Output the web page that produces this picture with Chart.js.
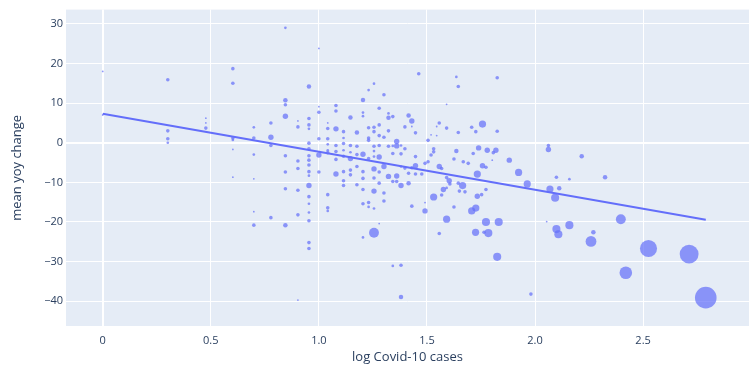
<!DOCTYPE html>
<html>
<head>
<meta charset="utf-8">
<script src="https://cdn.jsdelivr.net/npm/chart.js@4"></script>
<style>
  html, body { margin:0; padding:0; background:#fff; }
  #wrap { width:749px; height:371px; }
</style>
</head>
<body>
<div id="wrap"><canvas id="covidChart" width="749" height="371"></canvas></div>
<script>
// DATA
const logCases = [
  0,0,0.301,0.301,0.301,0.301,0.477,0.477,0.477,0.602,
  0.602,0.602,0.602,0.602,0.602,0.699,0.699,0.699,0.699,0.699,
  0.699,0.778,0.778,0.778,0.778,0.845,0.845,0.845,0.845,0.845,
  0.845,0.845,0.845,0.903,0.903,0.903,0.903,0.903,0.903,0.903,
  0.954,0.954,0.954,0.954,0.954,0.954,0.954,0.954,0.954,0.954,
  0.954,0.954,0.954,0.954,0.954,0.954,0.954,0.954,1,1,
  1,1,1,1,1.041,1.041,1.041,1.041,1.041,1.041,
  1.041,1.041,1.041,1.079,1.079,1.079,1.079,1.079,1.079,1.079,
  1.114,1.114,1.114,1.114,1.114,1.114,1.114,1.114,1.146,1.146,
  1.146,1.146,1.146,1.146,1.176,1.176,1.176,1.176,1.176,1.204,
  1.204,1.204,1.204,1.204,1.204,1.204,1.204,1.204,1.23,1.23,
  1.23,1.23,1.23,1.23,1.23,1.255,1.255,1.255,1.255,1.255,
  1.255,1.255,1.255,1.255,1.255,1.255,1.279,1.279,1.279,1.279,
  1.279,1.279,1.279,1.279,1.301,1.301,1.301,1.301,1.301,1.322,
  1.322,1.322,1.322,1.322,1.342,1.342,1.342,1.342,1.342,1.36,
  1.36,1.36,1.36,1.38,1.38,1.38,1.38,1.38,1.38,1.398,
  1.398,1.398,1.415,1.415,1.415,1.43,1.43,1.43,1.43,1.447,
  1.447,1.447,1.447,1.462,1.476,1.491,1.491,1.491,1.505,1.505,
  1.519,1.519,1.531,1.531,1.531,1.545,1.545,1.557,1.557,1.557,
  1.568,1.568,1.576,1.591,1.591,1.591,1.591,1.591,1.603,1.606,
  1.625,1.625,1.636,1.636,1.645,1.645,1.645,1.65,1.665,1.668,
  1.676,1.691,1.707,1.707,1.714,1.725,1.726,1.726,1.733,1.733,
  1.739,1.753,1.757,1.757,1.764,1.773,1.773,1.773,1.779,1.784,
  1.802,1.807,1.819,1.825,1.825,1.825,1.832,1.881,1.924,1.964,
  1.981,2.054,2.062,2.062,2.069,2.093,2.099,2.099,2.108,2.112,
  2.159,2.159,2.216,2.259,2.27,2.324,2.397,2.42,2.525,2.713,
  2.79
];
const yoyChange = [
  18,7,15.9,3,1,0,6.2,5,3.7,18.7,
  15,1.2,0.7,-1.7,-8.7,3.9,1.2,-3,-9.1,-17.4,
  -20.8,5,1.4,-0.7,-18.9,29,10.7,9.6,6.7,-3.3,
  -7.4,-11.6,-20.8,5.5,4,-4.6,-6.5,-12,-18.2,-39.7,
  14.2,6.1,4.5,3.5,-0.1,-1.5,-3.3,-4.4,-5.6,-7.3,
  -8.3,-10.8,-13.6,-15.4,-17.6,-19.7,-25.2,-26.7,23.8,9.1,
  7.7,1,-3.1,-7.4,5,3.6,1,-0.4,-1.9,-2.5,
  -13.1,-16.4,-17.2,9.4,8,3.5,-0.7,-2.2,-4.2,-7.9,
  2.8,1.2,-0.2,-1.9,-3.4,-7.3,-9.6,-10.8,6.4,-0.7,
  -2.4,-4,-6.9,-8.1,2.6,-0.9,-3,-6,-10.6,10.8,
  7.6,6.7,-2.9,-7.3,-9,-11.8,-15.4,-23.9,13.3,3.8,
  1.2,0.6,-4,-15.1,-16.2,14.9,3.9,2.8,-0.9,-2.1,
  -3.5,-6.6,-8.9,-12.2,-16.6,-22.7,8.7,4.5,1.8,-0.7,
  -3.6,-7.4,-10.2,-20.4,12.1,1.4,-6,-12.7,-14.7,7.4,
  6.3,3,-0.9,-8.5,6.6,-0.8,-2.7,-9.8,-31.1,0.3,
  -0.8,-8.4,-9.8,-0.7,-2.8,-6,-10.8,-30.9,-38.9,4,
  -1.5,-6.4,6.9,-7.7,-10.2,5.5,4.1,-6.3,-16,2.5,
  -3.5,-5.8,-7.9,17.4,-7.9,-5.2,-15.1,-17.2,0.6,-4.8,
  2,-3.1,-1.5,-2.3,-13.7,4.1,1.8,5,-6,-22.9,
  -6.5,-13.2,-11.8,9.7,3.7,-8.8,-11.4,-19.3,-9.6,-10.4,
  -4.1,-16.2,16.6,-2.1,14.2,2.6,-10.2,-12.2,-10.8,-4.8,
  -12.4,-5.2,3.9,-17.2,-2.7,-22.6,2.8,-16.5,-7.9,-13.5,
  -1.3,-13.1,4.7,-5.8,-22.6,-6.2,-11.8,-20,-1.9,-22.8,
  -4.4,-2.5,-1.9,2.9,16.4,-28.8,-20,-4.4,-7.5,-10.4,
  -38.2,-19.9,-0.7,-1.7,-11.7,-13.9,-8.7,-21.8,-23.1,-11.5,
  -9.2,-20.8,-3.4,-24.9,-22.6,-8.7,-19.3,-32.8,-26.7,-28.1,
  -39.1
];
const bubbleSize = [
  2,2,4,4,4,3,2,2,4,4,
  4,4,3,2,2,3,4,3,2,2,
  4,4,6,4,4,3,5,4,6,4,
  4,4,5,2,4,4,4,4,4,2,
  5,4,4,3,4,4,4,4,4,4,
  3,6,4,3,3,4,4,4,2,2,
  4,4,6,4,2,4,4,3,3,4,
  4,4,3,4,4,6,4,4,4,6,
  4,3,4,3,4,4,4,4,5,4,
  3,6,4,4,5,4,4,4,4,5,
  3,3,6,4,4,4,4,3,3,4,
  4,4,4,4,3,3,4,4,4,3,
  3,6,4,6,3,11,4,4,4,4,
  6,4,4,2,4,4,6,4,4,3,
  5,4,4,6,4,3,4,4,3,6,
  6,6,4,3,4,3,6,4,5,4,
  4,4,5,4,5,6,2,4,4,4,
  4,6,4,4,4,4,2,6,4,4,
  2,4,4,4,8,2,2,4,6,4,
  4,4,6,2,4,4,3,8,6,4,
  4,4,3,5,4,4,4,4,8,4,
  4,4,4,8,4,8,4,8,8,6,
  6,4,8,6,4,4,4,9,6,9,
  2,4,6,4,4,9,9,6,8,8,
  4,2,4,6,8,9,4,9,9,5,
  3,9,5,12,5,5,11,14,19,21,
  24
];
const trendX = [0, 2.79];
const trendY = [7.3, -19.45];
const yTicks = [-40, -30, -20, -10, 0, 10, 20, 30];

const FONT = "'Open Sans', sans-serif";
const TXT = '#2a3f5f';

const points = logCases.map((x, k) => ({ x: x, y: yoyChange[k], r: bubbleSize[k] * 0.45 }));
const trend = trendX.map((x, k) => ({ x: x, y: trendY[k] }));

// plot area background
const plotBg = {
  id: 'plotBg',
  beforeDraw(chart) {
    const a = chart.chartArea, c = chart.ctx;
    c.save();
    c.fillStyle = '#e5ecf6';
    c.fillRect(a.left, a.top, a.right - a.left, a.bottom - a.top);
    c.restore();
  }
};

new Chart(document.getElementById('covidChart').getContext('2d'), {
  type: 'bubble',
  data: {
    datasets: [
      {
        type: 'line',
        data: trend,
        borderColor: '#636efa',
        borderWidth: 2,
        pointRadius: 0,
        fill: false,
        order: 0
      },
      {
        data: points,
        backgroundColor: 'rgba(99,110,250,0.7)',
        borderWidth: 0,
        order: 1
      }
    ]
  },
  options: {
    responsive: false,
    animation: false,
    events: [],
    layout: { autoPadding: false, padding: { top: 4, right: 0, left: 0, bottom: 0 } },
    plugins: { legend: { display: false }, tooltip: { enabled: false } },
    scales: {
      x: {
        type: 'linear',
        min: -0.17,
        max: 2.99,
        border: { display: false },
        grid: {
          color: '#ffffff',
          lineWidth: c => c.tick && c.tick.value === 0 ? 2 : 1,
          drawTicks: false
        },
        ticks: {
          stepSize: 0.5,
          includeBounds: false,
          color: TXT,
          font: { family: FONT, size: 11 },
          padding: 8,
          maxRotation: 0
        },
        title: {
          display: true,
          text: 'log Covid-10 cases',
          color: TXT,
          font: { family: FONT, size: 13 },
          padding: { top: 0, bottom: 6 }
        },
        afterFit: s => { s.height = 45; }
      },
      y: {
        type: 'linear',
        min: -46.25,
        max: 33.6,
        border: { display: false },
        grid: {
          color: '#ffffff',
          lineWidth: c => c.tick && c.tick.value === 0 ? 2 : 1,
          drawTicks: false
        },
        afterBuildTicks: s => { s.ticks = yTicks.map(v => ({ value: v })); },
        ticks: {
          color: TXT,
          font: { family: FONT, size: 11 },
          padding: 3,
          callback: v => v < 0 ? '\u2212' + Math.abs(v) : String(v)
        },
        title: {
          display: true,
          text: 'mean yoy change',
          color: TXT,
          font: { family: FONT, size: 13 },
          padding: { top: 9, bottom: 0 }
        },
        afterFit: s => { s.width = 66; }
      }
    }
  },
  plugins: [plotBg]
});
</script>
</body>
</html>
